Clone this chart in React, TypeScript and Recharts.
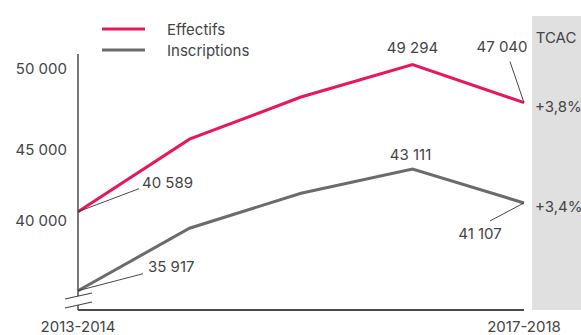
import React from "react";
import { LineChart, Line, XAxis, YAxis } from "recharts";

const years = ["2013-2014", "2014-2015", "2015-2016", "2016-2017", "2017-2018"];
const effectifs = [40589, 44880, 47370, 49294, 47040];
const inscriptions = [35917, 39610, 41680, 43111, 41107];
const seriesNames = ["Effectifs", "Inscriptions"];
const tcac = ["+3,8%", "+3,4%"];
const tcacTitle = "TCAC";
const yTickLabels = ["40 000", "45 000", "50 000"];
// values at which the reference draws its (approximate) tick labels
const yTickAt = [40040, 44240, 49030];
const yDomain = [34776, 49915];

const data = years.map((y, i) => ({ year: y, eff: effectifs[i], ins: inscriptions[i] }));

const PINK = "#e8175d";
const GREY = "#6b6b6e";
const TEXT = "#444";
const FONT = "Inter, 'Noto Sans', sans-serif";

const fmt = (v: number) => String(v).replace(/\B(?=(\d{3})+(?!\d))/g, " ");

type Lay = { dx: number; dy: number; anchor: string; leader?: [number, number] };
const effLayout: Record<number, Lay> = {
  0: { dx: 64, dy: -29, anchor: "start", leader: [61, -23] },
  3: { dx: 0, dy: -17, anchor: "middle" },
  4: { dx: -22, dy: -56, anchor: "middle", leader: [-14, -41] },
};
const insLayout: Record<number, Lay> = {
  0: { dx: 70, dy: -24, anchor: "start", leader: [65, -17] },
  3: { dx: -2, dy: -15, anchor: "middle" },
  4: { dx: -44, dy: 31, anchor: "middle", leader: [-34, 18] },
};

const makeDot = (layout: Record<number, Lay>, tcacText: string) => (props: any) => {
  const { cx, cy, index, value } = props;
  const lay = layout[index];
  const v = Array.isArray(value) ? value[1] : value;
  return (
    <g key={`d-${index}`}>
      {lay && lay.leader && (
        <line x1={cx} y1={cy} x2={cx + lay.leader[0]} y2={cy + lay.leader[1]} stroke="#333" strokeWidth={0.9} />
      )}
      {lay && (
        <text x={cx + lay.dx} y={cy + lay.dy} textAnchor={lay.anchor as any} dominantBaseline="central"
          fill={TEXT} fontSize={15} fontFamily={FONT}>{fmt(v)}</text>
      )}
      {index === years.length - 1 && (
        <text x={cx + 11} y={cy + 4} textAnchor="start" dominantBaseline="central" fill={TEXT}
          fontSize={15} fontFamily={FONT}>{tcacText}</text>
      )}
    </g>
  );
};

export default function App() {
  return (
    <div style={{ position: "absolute", left: 0, top: 0, width: 581, height: 335, background: "#fff" }}>
      <div style={{ position: "absolute", left: 532, top: 16, width: 49, height: 294, background: "#e0e0e0" }} />
      <div style={{ position: "absolute", left: 0, top: 0 }}>
        <LineChart width={581} height={335} data={data} margin={{ top: 54, right: 57, bottom: 0, left: 0 }}>
          <XAxis dataKey="year" ticks={[years[0], years[years.length - 1]]} interval={0} height={25}
            tickLine={false} tickMargin={5} axisLine={{ stroke: "#4a4a4a", strokeWidth: 2 }}
            tick={{ fill: TEXT, fontSize: 15, fontFamily: FONT }} />
          <YAxis type="number" domain={yDomain} ticks={yTickAt} width={78} tickLine={false} tickSize={6} tickMargin={5}
            axisLine={{ stroke: "#4a4a4a", strokeWidth: 1.5 }}
            tickFormatter={(v: number) => yTickLabels[yTickAt.indexOf(v)] ?? ""}
            tick={{ fill: TEXT, fontSize: 15, fontFamily: FONT }} />
          <Line dataKey="eff" name={seriesNames[0]} stroke={PINK} strokeWidth={3} isAnimationActive={false}
            dot={makeDot(effLayout, tcac[0])} activeDot={false} />
          <Line dataKey="ins" name={seriesNames[1]} stroke={GREY} strokeWidth={3} isAnimationActive={false}
            dot={makeDot(insLayout, tcac[1])} activeDot={false} />
        </LineChart>
      </div>
      <svg width={581} height={335} style={{ position: "absolute", left: 0, top: 0, pointerEvents: "none" }}>
        {seriesNames.map((n, i) => (
          <g key={n}>
            <line x1={102} x2={145} y1={29 + i * 21} y2={29 + i * 21} stroke={i === 0 ? PINK : GREY} strokeWidth={3} />
            <text x={167} y={29 + i * 21} dominantBaseline="central" fill={TEXT} fontSize={15} fontFamily={FONT}>{n}</text>
          </g>
        ))}
        <polygon points="71,297.5 86,294.5 86,303.5 71,306.8" fill="#fff" />
        <line x1={65} y1={299} x2={92} y2={293} stroke="#444" strokeWidth={1.2} />
        <line x1={65} y1={308} x2={92} y2={302} stroke="#444" strokeWidth={1.2} />
        <text x={556} y={37} textAnchor="middle" dominantBaseline="central" fill={TEXT} fontSize={15} fontFamily={FONT}>{tcacTitle}</text>
      </svg>
    </div>
  );
}
